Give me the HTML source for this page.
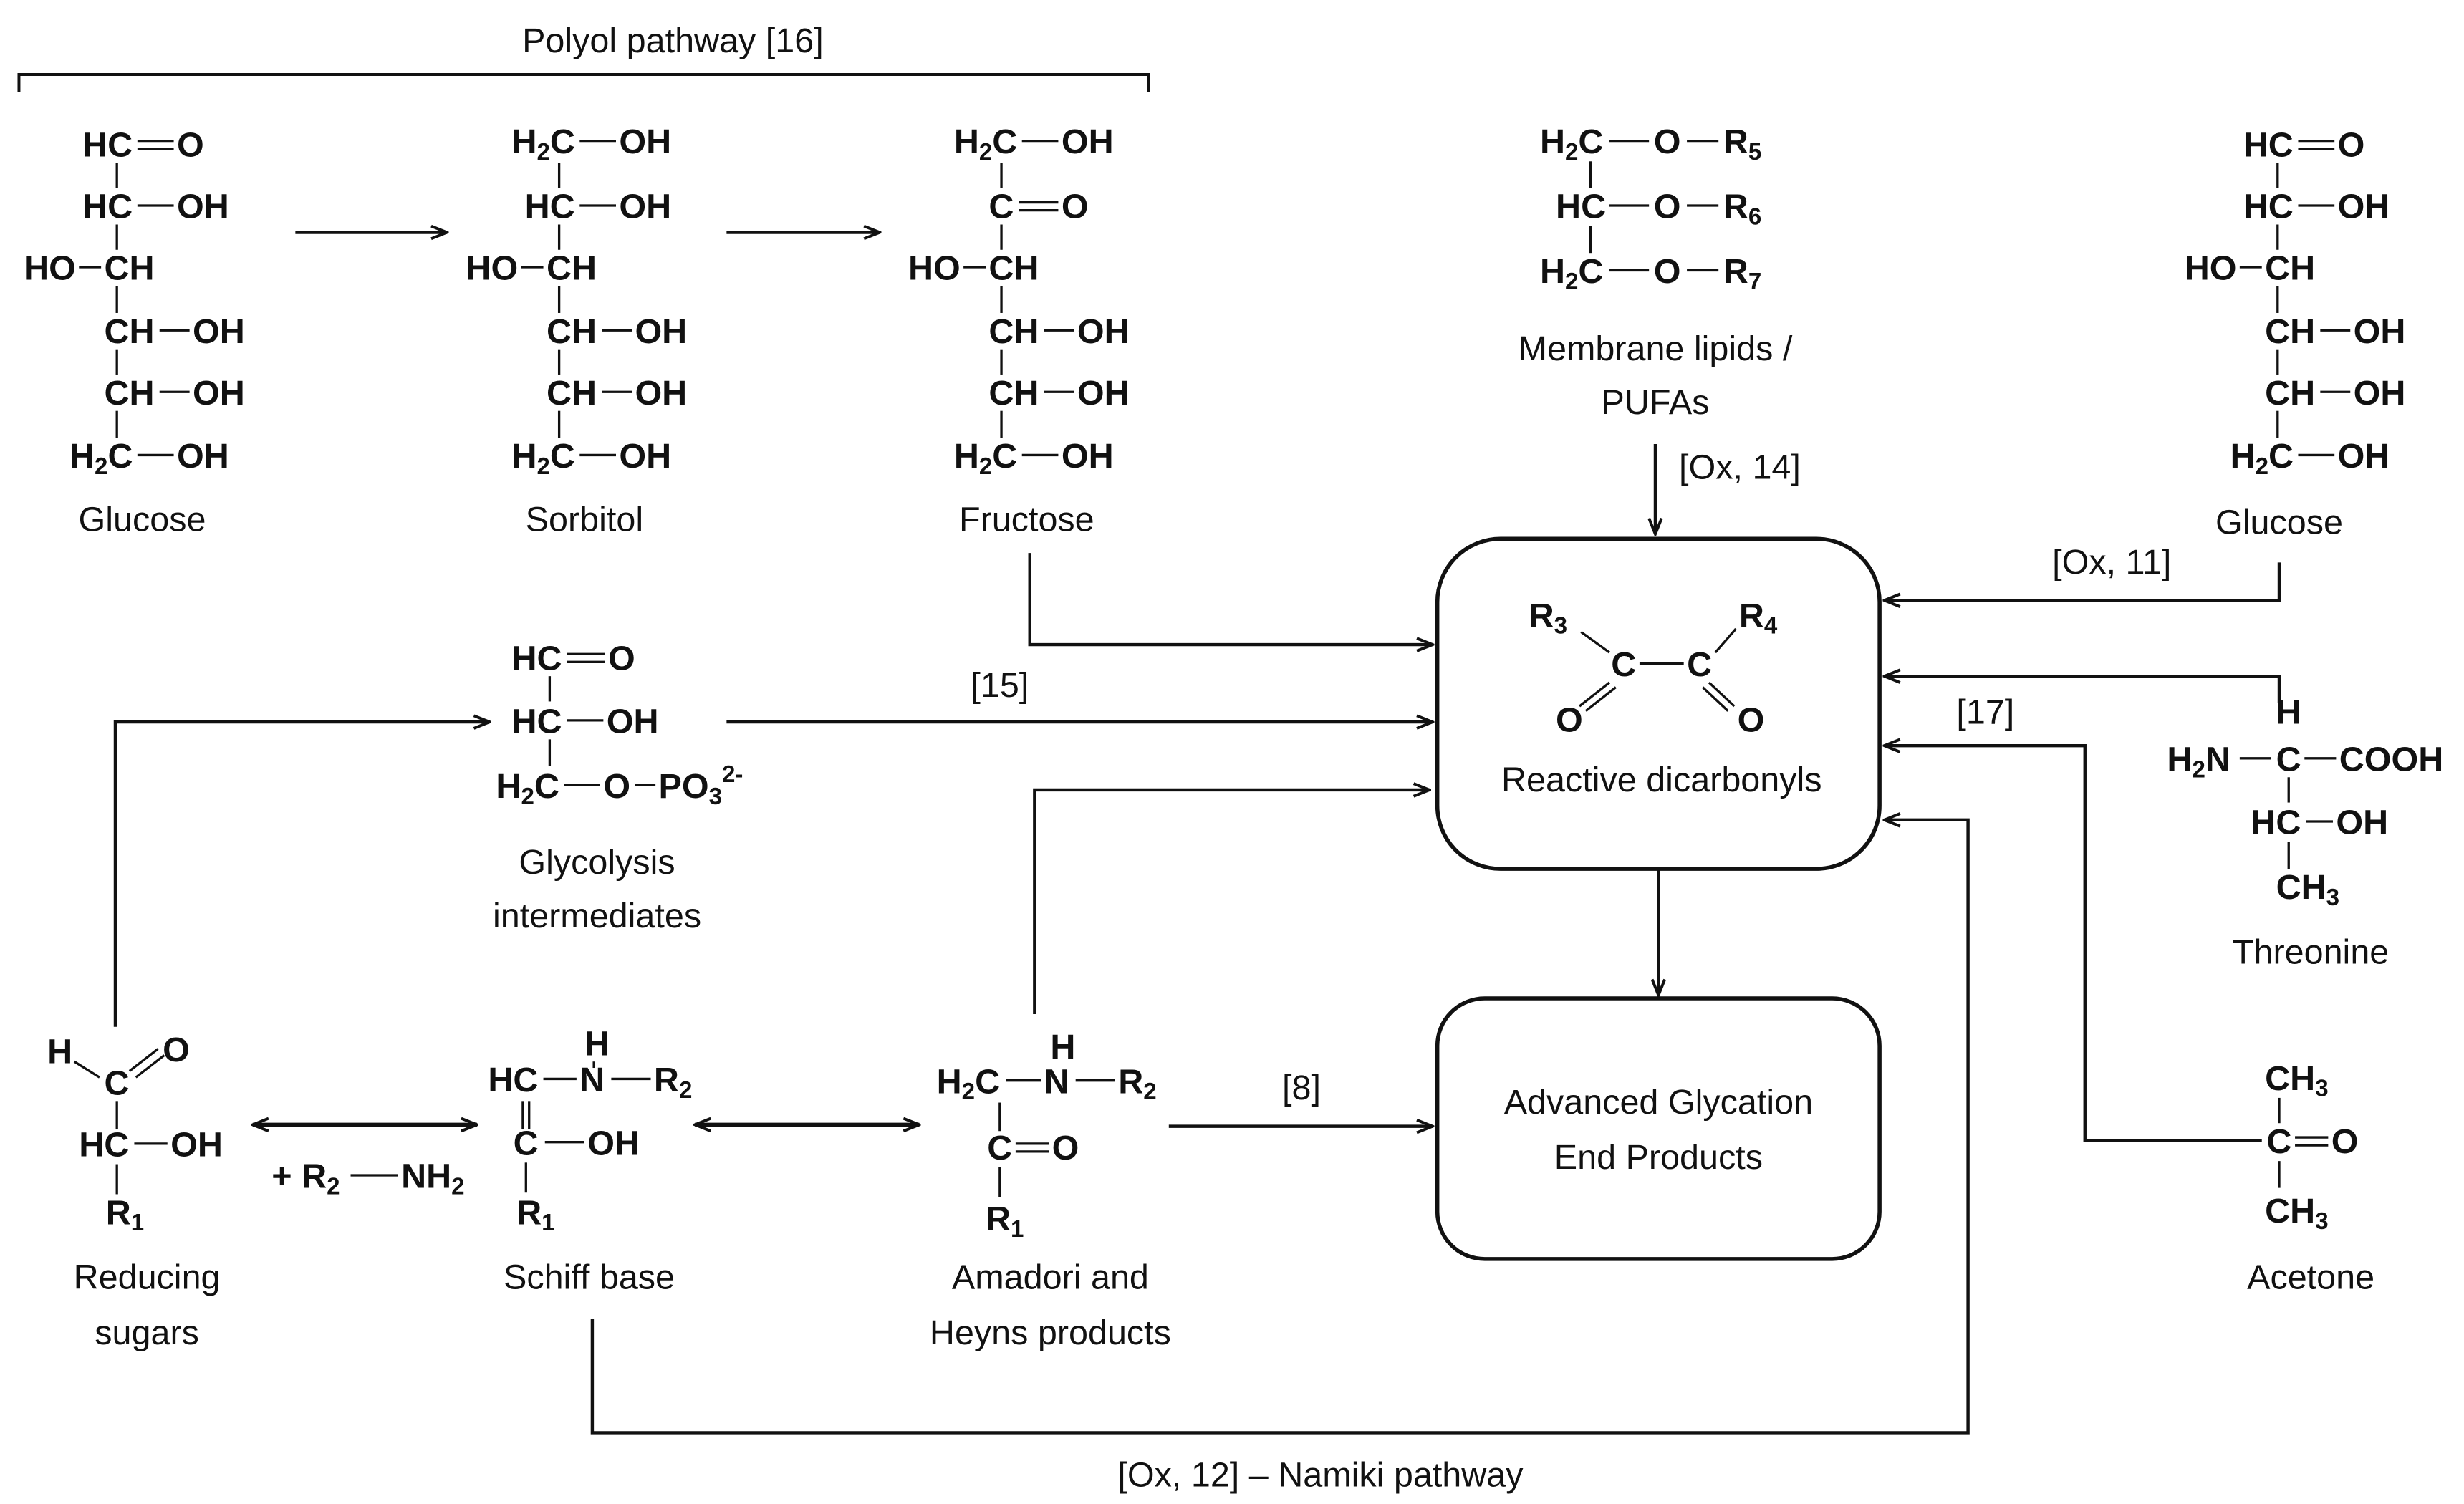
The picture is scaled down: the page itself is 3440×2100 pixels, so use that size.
<!DOCTYPE html>
<html><head><meta charset="utf-8"><style>
html,body{margin:0;padding:0;background:#fff}
svg{display:block}
.b{font-family:"Liberation Sans",sans-serif;font-weight:bold;font-size:22px;fill:#111}
.n{font-family:"Liberation Sans",sans-serif;font-size:22px;fill:#111}
.s{font-size:15px}
line,path,polyline{stroke:#111;fill:none}
</style></head><body>
<svg width="3440" height="2100" viewBox="0 0 1560 952" xmlns="http://www.w3.org/2000/svg">
<defs><marker id="a" markerWidth="12" markerHeight="10" refX="11" refY="5" orient="auto" markerUnits="userSpaceOnUse"><path d="M1,1 L11,5 L1,9" stroke="#111" stroke-width="1.8" fill="none"/></marker>
<marker id="as" markerWidth="12" markerHeight="10" refX="1" refY="5" orient="auto" markerUnits="userSpaceOnUse"><path d="M11,1 L1,5 L11,9" stroke="#111" stroke-width="1.8" fill="none"/></marker>
<g id="glc" stroke-width="1.5">
<text class="b" x="84" y="99" text-anchor="end">HC</text><line x1="87" y1="89" x2="110" y2="89"/><line x1="87" y1="94" x2="110" y2="94"/><text class="b" x="112" y="99">O</text>
<text class="b" x="84" y="138" text-anchor="end">HC</text><line x1="87" y1="130" x2="110" y2="130"/><text class="b" x="112" y="138">OH</text>
<text class="b" x="48" y="177" text-anchor="end">HO</text><line x1="50" y1="169" x2="64" y2="169"/><text class="b" x="66" y="177">CH</text>
<text class="b" x="66" y="217">CH</text><line x1="101" y1="209" x2="120" y2="209"/><text class="b" x="122" y="217">OH</text>
<text class="b" x="66" y="256">CH</text><line x1="101" y1="248" x2="120" y2="248"/><text class="b" x="122" y="256">OH</text>
<text class="b" x="44" y="296">H<tspan class="s" dy="4">2</tspan><tspan dy="-4">C</tspan></text><line x1="87" y1="288" x2="110" y2="288"/><text class="b" x="112" y="296">OH</text>
<line x1="74" y1="103" x2="74" y2="119"/><line x1="74" y1="142" x2="74" y2="158"/><line x1="74" y1="181" x2="74" y2="198"/><line x1="74" y1="221" x2="74" y2="237"/><line x1="74" y1="260" x2="74" y2="277"/>
</g>
<g id="sor" stroke-width="1.5">
<text class="b" x="44" y="97">H<tspan class="s" dy="4">2</tspan><tspan dy="-4">C</tspan></text><line x1="87" y1="89" x2="110" y2="89"/><text class="b" x="112" y="97">OH</text>
<text class="b" x="84" y="138" text-anchor="end">HC</text><line x1="87" y1="130" x2="110" y2="130"/><text class="b" x="112" y="138">OH</text>
<text class="b" x="48" y="177" text-anchor="end">HO</text><line x1="50" y1="169" x2="64" y2="169"/><text class="b" x="66" y="177">CH</text>
<text class="b" x="66" y="217">CH</text><line x1="101" y1="209" x2="120" y2="209"/><text class="b" x="122" y="217">OH</text>
<text class="b" x="66" y="256">CH</text><line x1="101" y1="248" x2="120" y2="248"/><text class="b" x="122" y="256">OH</text>
<text class="b" x="44" y="296">H<tspan class="s" dy="4">2</tspan><tspan dy="-4">C</tspan></text><line x1="87" y1="288" x2="110" y2="288"/><text class="b" x="112" y="296">OH</text>
<line x1="74" y1="103" x2="74" y2="119"/><line x1="74" y1="142" x2="74" y2="158"/><line x1="74" y1="181" x2="74" y2="198"/><line x1="74" y1="221" x2="74" y2="237"/><line x1="74" y1="260" x2="74" y2="277"/>
</g>
</defs>

<text class="n" x="426" y="33" text-anchor="middle">Polyol pathway [16]</text>
<polyline points="12,58 12,47 727,47 727,58" stroke-width="1.8"/>

<use href="#glc"/>
<text class="n" x="90" y="336" text-anchor="middle">Glucose</text>

<line x1="187" y1="147" x2="283" y2="147" stroke-width="2" marker-end="url(#a)"/>
<line x1="460" y1="147" x2="557" y2="147" stroke-width="2" marker-end="url(#a)"/>

<use href="#sor" x="280"/>
<text class="n" x="370" y="336" text-anchor="middle">Sorbitol</text>

<!-- Fructose -->
<g stroke-width="1.5" transform="translate(560,0)">
<text class="b" x="44" y="97">H<tspan class="s" dy="4">2</tspan><tspan dy="-4">C</tspan></text><line x1="87" y1="89" x2="110" y2="89"/><text class="b" x="112" y="97">OH</text>
<text class="b" x="66" y="138">C</text><line x1="85" y1="128" x2="110" y2="128"/><line x1="85" y1="133" x2="110" y2="133"/><text class="b" x="112" y="138">O</text>
<text class="b" x="48" y="177" text-anchor="end">HO</text><line x1="50" y1="169" x2="64" y2="169"/><text class="b" x="66" y="177">CH</text>
<text class="b" x="66" y="217">CH</text><line x1="101" y1="209" x2="120" y2="209"/><text class="b" x="122" y="217">OH</text>
<text class="b" x="66" y="256">CH</text><line x1="101" y1="248" x2="120" y2="248"/><text class="b" x="122" y="256">OH</text>
<text class="b" x="44" y="296">H<tspan class="s" dy="4">2</tspan><tspan dy="-4">C</tspan></text><line x1="87" y1="288" x2="110" y2="288"/><text class="b" x="112" y="296">OH</text>
<line x1="74" y1="103" x2="74" y2="119"/><line x1="74" y1="142" x2="74" y2="158"/><line x1="74" y1="181" x2="74" y2="198"/><line x1="74" y1="221" x2="74" y2="237"/><line x1="74" y1="260" x2="74" y2="277"/>
</g>
<text class="n" x="650" y="336" text-anchor="middle">Fructose</text>

<use href="#glc" x="1368"/>
<text class="n" x="1443" y="338" text-anchor="middle">Glucose</text>

<!-- Membrane lipids -->
<g stroke-width="1.5">
<text class="b" x="975" y="97">H<tspan class="s" dy="4">2</tspan><tspan dy="-4">C</tspan></text><line x1="1019" y1="89" x2="1044" y2="89"/><text class="b" x="1047" y="97">O</text><line x1="1068" y1="89" x2="1088" y2="89"/><text class="b" x="1091" y="97">R<tspan class="s" dy="4">5</tspan></text>
<text class="b" x="985" y="138">HC</text><line x1="1019" y1="130" x2="1044" y2="130"/><text class="b" x="1047" y="138">O</text><line x1="1068" y1="130" x2="1088" y2="130"/><text class="b" x="1091" y="138">R<tspan class="s" dy="4">6</tspan></text>
<text class="b" x="975" y="179">H<tspan class="s" dy="4">2</tspan><tspan dy="-4">C</tspan></text><line x1="1019" y1="171" x2="1044" y2="171"/><text class="b" x="1047" y="179">O</text><line x1="1068" y1="171" x2="1088" y2="171"/><text class="b" x="1091" y="179">R<tspan class="s" dy="4">7</tspan></text>
<line x1="1007" y1="102" x2="1007" y2="119"/><line x1="1007" y1="143" x2="1007" y2="160"/>
</g>
<text class="n" x="1048" y="228" text-anchor="middle">Membrane lipids /</text>
<text class="n" x="1048" y="262" text-anchor="middle">PUFAs</text>
<line x1="1048" y1="281" x2="1048" y2="338" stroke-width="2" marker-end="url(#a)"/>
<text class="n" x="1063" y="303">[Ox, 14]</text>

<rect x="910" y="341" width="280" height="209" rx="40" stroke="#111" stroke-width="2.5" fill="none"/>
<rect x="910" y="632" width="280" height="165" rx="30" stroke="#111" stroke-width="2.5" fill="none"/>
<line x1="1050" y1="550" x2="1050" y2="630" stroke-width="2" marker-end="url(#a)"/>
<g stroke-width="1.5">
<text class="b" x="968" y="397">R<tspan class="s" dy="4">3</tspan></text>
<text class="b" x="1101" y="397">R<tspan class="s" dy="4">4</tspan></text>
<text class="b" x="1020" y="428">C</text><text class="b" x="1068" y="428">C</text>
<line x1="1038" y1="420" x2="1066" y2="420"/>
<line x1="1001" y1="400" x2="1019" y2="413"/><line x1="1099" y1="398" x2="1086" y2="413"/>
<line x1="1019" y1="432" x2="1000" y2="447"/><line x1="1023" y1="435" x2="1004" y2="450"/>
<line x1="1082" y1="432" x2="1098" y2="447"/><line x1="1078" y1="435" x2="1094" y2="450"/>
<text class="b" x="985" y="463">O</text><text class="b" x="1100" y="463">O</text>
</g>
<text class="n" x="1052" y="501" text-anchor="middle">Reactive dicarbonyls</text>
<text class="n" x="1050" y="705" text-anchor="middle">Advanced Glycation</text>
<text class="n" x="1050" y="740" text-anchor="middle">End Products</text>

<polyline points="652,350 652,408 907,408" stroke-width="2" marker-end="url(#a)"/>
<line x1="460" y1="457" x2="907" y2="457" stroke-width="2" marker-end="url(#a)"/>
<text class="n" x="633" y="441" text-anchor="middle">[15]</text>
<polyline points="655,642 655,500 905,500" stroke-width="2" marker-end="url(#a)"/>
<polyline points="1443,356 1443,380 1193,380" stroke-width="2" marker-end="url(#a)"/>
<text class="n" x="1337" y="363" text-anchor="middle">[Ox, 11]</text>
<polyline points="1443,445 1443,428 1193,428" stroke-width="2" marker-end="url(#a)"/>
<text class="n" x="1257" y="458" text-anchor="middle">[17]</text>
<polyline points="1432,722 1320,722 1320,472 1193,472" stroke-width="2" marker-end="url(#a)"/>
<polyline points="375,835 375,907 1246,907 1246,519 1193,519" stroke-width="2" marker-end="url(#a)"/>
<text class="n" x="836" y="941" text-anchor="middle">[Ox, 12] – Namiki pathway</text>

<!-- Glycolysis intermediate -->
<g stroke-width="1.5">
<text class="b" x="324" y="424">HC</text><line x1="359" y1="414" x2="383" y2="414"/><line x1="359" y1="419" x2="383" y2="419"/><text class="b" x="385" y="424">O</text>
<text class="b" x="324" y="464">HC</text><line x1="359" y1="456" x2="382" y2="456"/><text class="b" x="384" y="464">OH</text>
<text class="b" x="314" y="505">H<tspan class="s" dy="4">2</tspan><tspan dy="-4">C</tspan></text><line x1="357" y1="497" x2="380" y2="497"/><text class="b" x="382" y="505">O</text><line x1="402" y1="497" x2="415" y2="497"/><text class="b" x="417" y="505">PO<tspan class="s" dy="4">3</tspan><tspan class="s" dy="-14">2-</tspan></text>
<line x1="348" y1="428" x2="348" y2="444"/><line x1="348" y1="468" x2="348" y2="485"/>
</g>
<text class="n" x="378" y="553" text-anchor="middle">Glycolysis</text>
<text class="n" x="378" y="587" text-anchor="middle">intermediates</text>

<polyline points="73,650 73,457 310,457" stroke-width="2" marker-end="url(#a)"/>

<!-- Reducing sugars -->
<g stroke-width="1.5">
<text class="b" x="30" y="673">H</text><text class="b" x="103" y="672">O</text>
<text class="b" x="66" y="693">C</text>
<line x1="47" y1="672" x2="63" y2="682"/><line x1="82" y1="678" x2="100" y2="664"/><line x1="86" y1="682" x2="104" y2="668"/>
<line x1="74" y1="697" x2="74" y2="715"/>
<text class="b" x="50" y="732">HC</text><line x1="85" y1="724" x2="106" y2="724"/><text class="b" x="108" y="732">OH</text>
<line x1="74" y1="737" x2="74" y2="756"/>
<text class="b" x="67" y="775">R<tspan class="s" dy="4">1</tspan></text>
</g>
<text class="n" x="93" y="816" text-anchor="middle">Reducing</text>
<text class="n" x="93" y="851" text-anchor="middle">sugars</text>
<line x1="160" y1="712" x2="302" y2="712" stroke-width="2.5" marker-start="url(#as)" marker-end="url(#a)"/>
<text class="b" x="172" y="752">+ R<tspan class="s" dy="4">2</tspan></text><line x1="222" y1="744" x2="252" y2="744" stroke-width="1.5"/><text class="b" x="254" y="752">NH<tspan class="s" dy="4">2</tspan></text>

<!-- Schiff base -->
<g stroke-width="1.5">
<text class="b" x="370" y="668">H</text>
<text class="b" x="309" y="691">HC</text><line x1="344" y1="683" x2="365" y2="683"/><text class="b" x="367" y="691">N</text><line x1="387" y1="683" x2="412" y2="683"/><text class="b" x="414" y="691">R<tspan class="s" dy="4">2</tspan></text>
<line x1="376" y1="672" x2="376" y2="676"/>
<line x1="331" y1="697" x2="331" y2="715"/><line x1="335" y1="697" x2="335" y2="715"/>
<text class="b" x="325" y="731">C</text><line x1="345" y1="723" x2="370" y2="723"/><text class="b" x="372" y="731">OH</text>
<line x1="333" y1="736" x2="333" y2="755"/>
<text class="b" x="327" y="775">R<tspan class="s" dy="4">1</tspan></text>
</g>
<text class="n" x="373" y="816" text-anchor="middle">Schiff base</text>
<line x1="440" y1="712" x2="582" y2="712" stroke-width="2.5" marker-start="url(#as)" marker-end="url(#a)"/>

<!-- Amadori -->
<g stroke-width="1.5">
<text class="b" x="665" y="670">H</text>
<text class="b" x="593" y="692">H<tspan class="s" dy="4">2</tspan><tspan dy="-4">C</tspan></text><line x1="637" y1="684" x2="659" y2="684"/><text class="b" x="661" y="692">N</text><line x1="681" y1="684" x2="706" y2="684"/><text class="b" x="708" y="692">R<tspan class="s" dy="4">2</tspan></text>
<line x1="633" y1="698" x2="633" y2="716"/>
<text class="b" x="625" y="734">C</text><line x1="643" y1="724" x2="664" y2="724"/><line x1="643" y1="729" x2="664" y2="729"/><text class="b" x="666" y="734">O</text>
<line x1="633" y1="739" x2="633" y2="758"/>
<text class="b" x="624" y="779">R<tspan class="s" dy="4">1</tspan></text>
</g>
<text class="n" x="665" y="816" text-anchor="middle">Amadori and</text>
<text class="n" x="665" y="851" text-anchor="middle">Heyns products</text>
<line x1="740" y1="713" x2="907" y2="713" stroke-width="2" marker-end="url(#a)"/>
<text class="n" x="824" y="696" text-anchor="middle">[8]</text>

<!-- Threonine -->
<g stroke-width="1.5">
<text class="b" x="1441" y="458">H</text>
<text class="b" x="1372" y="488">H<tspan class="s" dy="4">2</tspan><tspan dy="-4">N</tspan></text><line x1="1418" y1="480" x2="1438" y2="480"/><text class="b" x="1441" y="488">C</text><line x1="1459" y1="480" x2="1479" y2="480"/><text class="b" x="1481" y="488">COOH</text>
<line x1="1449" y1="492" x2="1449" y2="508"/>
<text class="b" x="1425" y="528">HC</text><line x1="1460" y1="520" x2="1477" y2="520"/><text class="b" x="1479" y="528">OH</text>
<line x1="1449" y1="533" x2="1449" y2="550"/>
<text class="b" x="1441" y="569">CH<tspan class="s" dy="4">3</tspan></text>
</g>
<text class="n" x="1463" y="610" text-anchor="middle">Threonine</text>

<!-- Acetone -->
<g stroke-width="1.5">
<text class="b" x="1434" y="690">CH<tspan class="s" dy="4">3</tspan></text>
<line x1="1443" y1="695" x2="1443" y2="711"/>
<text class="b" x="1435" y="730">C</text><line x1="1453" y1="720" x2="1474" y2="720"/><line x1="1453" y1="725" x2="1474" y2="725"/><text class="b" x="1476" y="730">O</text>
<line x1="1443" y1="735" x2="1443" y2="752"/>
<text class="b" x="1434" y="774">CH<tspan class="s" dy="4">3</tspan></text>
</g>
<text class="n" x="1463" y="816" text-anchor="middle">Acetone</text>
</svg>
</body></html>
